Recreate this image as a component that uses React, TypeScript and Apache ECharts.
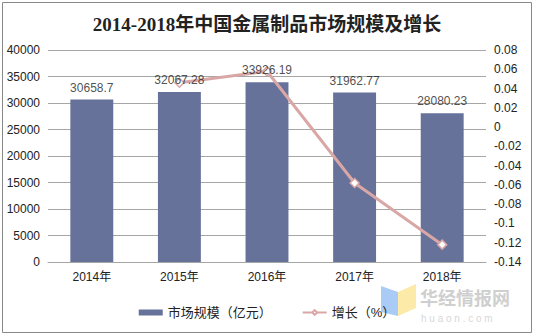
import React, { useEffect, useRef } from "react";
import * as echarts from "echarts";

const categories = ["2014年", "2015年", "2016年", "2017年", "2018年"];
const marketSize = [30658.7, 32067.28, 33926.19, 31962.77, 28080.23];
const growth: (number | null)[] = [null, 0.046, 0.058, -0.058, -0.122];
const seriesNames = ["市场规模（亿元）", "增长（%）"];
const titleText = "2014-2018年中国金属制品市场规模及增长";

export default function App() {
  const ref = useRef<HTMLDivElement>(null);
  useEffect(() => {
    const chart = echarts.init(ref.current!, null, { renderer: "svg" });
    const font = "Liberation Sans, Arial, Noto Sans CJK SC, sans-serif";
    chart.setOption({
      animation: false,
      backgroundColor: "#ffffff",
      title: {
        text: titleText,
        left: "center",
        top: 10,
        textStyle: {
          fontFamily: "Liberation Serif, Noto Sans CJK SC, serif",
          fontSize: 19,
          fontWeight: "bold",
          color: "#222",
        },
      },
      grid: { left: 48, right: 48, top: 50, bottom: 74 },
      legend: {
        bottom: 12,
        left: "center",
        itemGap: 30,
        itemWidth: 24,
        itemHeight: 6,
        textStyle: { fontFamily: font, fontSize: 13, color: "#222" },
        data: [
          { name: seriesNames[0], icon: "rect" },
          { name: seriesNames[1] },
        ],
      },
      xAxis: {
        type: "category",
        data: categories,
        axisLine: { lineStyle: { color: "#a6a6a6" } },
        axisTick: { length: 4, lineStyle: { color: "#a6a6a6" } },
        axisLabel: { fontFamily: font, fontSize: 12, color: "#222", margin: 9 },
      },
      yAxis: [
        {
          type: "value",
          min: 0,
          max: 40000,
          interval: 5000,
          axisLine: { show: false },
          axisTick: { show: false },
          splitLine: { lineStyle: { color: "#a6a6a6" } },
          axisLabel: {
            fontFamily: font,
            fontSize: 12,
            color: "#222",
            margin: 8,
            formatter: (v: number) => String(v),
          },
        },
        {
          type: "value",
          min: -0.14,
          max: 0.08,
          interval: 0.02,
          axisLine: { show: false },
          axisTick: { show: false },
          splitLine: { show: false },
          axisLabel: {
            fontFamily: font,
            fontSize: 12,
            color: "#222",
            margin: 8,
            formatter: (v: number) => String(parseFloat(v.toFixed(2))),
          },
        },
      ],
      series: [
        {
          name: seriesNames[0],
          type: "bar",
          data: marketSize,
          barWidth: "49%",
          itemStyle: { color: "#67729b" },
          z: 2,
        },
        {
          name: seriesNames[1],
          type: "line",
          yAxisIndex: 1,
          data: growth,
          symbol: "diamond",
          symbolSize: 9,
          lineStyle: { color: "#d9a7a5", width: 3 },
          itemStyle: { color: "#ffffff", borderColor: "#d9a7a5", borderWidth: 1.5 },
          z: 3,
        },
        {
          name: "labels",
          type: "scatter",
          data: marketSize,
          symbolSize: 0,
          silent: true,
          z: 5,
          label: {
            show: true,
            position: "top",
            distance: 6,
            fontFamily: font,
            fontSize: 12,
            color: "#222",
          },
        },
      ],
      graphic: [
        {
          type: "rect",
          shape: { x: 2.5, y: 2.5, width: 529, height: 330 },
          style: { fill: "none", stroke: "#888888", lineWidth: 1 },
          silent: true,
        },
        {
          type: "polygon",
          shape: { points: [[381, 286], [398, 292], [398, 316], [381, 312]] },
          style: { fill: "#a9cbf5" },
          silent: true,
        },
        {
          type: "polygon",
          shape: { points: [[398, 292], [416, 284], [416, 308], [398, 316]] },
          style: { fill: "#fbeaa8" },
          silent: true,
        },
        {
          type: "text",
          x: 420,
          y: 288,
          style: {
            text: "华经情报网",
            font: "bold 18px Noto Sans CJK SC, sans-serif",
            fill: "#cfcfcf",
          },
          silent: true,
        },
        {
          type: "text",
          x: 421,
          y: 313,
          style: {
            text: "h u a o n . c o m",
            font: "10px Liberation Sans, sans-serif",
            fill: "#d8d8d8",
          },
          silent: true,
        },
      ],
    });
    return () => chart.dispose();
  }, []);
  return (
    <div
      ref={ref}
      style={{ position: "fixed", left: 0, top: 0, width: 534, height: 336 }}
    />
  );
}
